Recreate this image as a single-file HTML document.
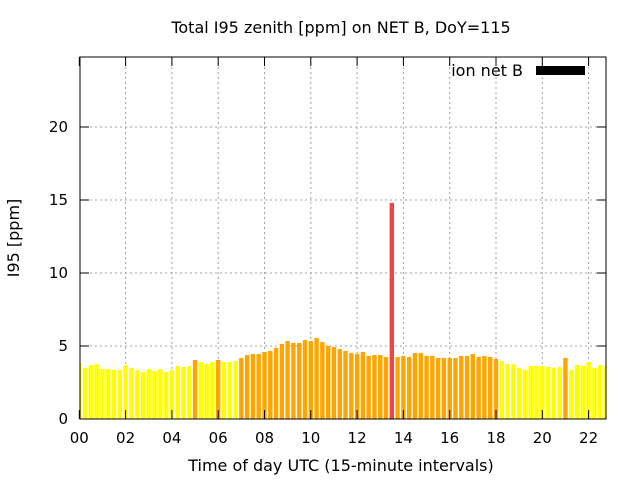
<!DOCTYPE html>
<html><head><meta charset="utf-8"><style>
html,body{margin:0;padding:0;background:#fff}
svg{display:block;font-family:"DejaVu Sans","Liberation Sans",sans-serif}
</style></head><body>
<svg id="chart" width="640" height="480" viewBox="0 0 640 480">
<text x="341" y="33" text-anchor="middle" font-size="16">Total I95 zenith [ppm] on NET B, DoY=115</text>
<text x="341" y="471" text-anchor="middle" font-size="16">Time of day UTC (15-minute intervals)</text>
<text transform="translate(19,238) rotate(-90)" text-anchor="middle" font-size="16">I95 [ppm]</text>
<g id="grid"></g>
<g id="bars" clip-path="url(#clip)"></g>
<defs><clipPath id="clip"><rect x="80" y="57" width="526" height="362"/></clipPath></defs>
<g id="axes"></g>
<g>
<text x="523" y="76" text-anchor="end" font-size="16">ion net B</text>
<rect x="536" y="66" width="49" height="9" fill="#000"/>
</g>
</svg>
<script>
const values = [3.84,3.49,3.70,3.77,3.42,3.42,3.36,3.36,3.70,3.49,3.36,3.22,3.42,3.29,3.42,3.22,3.36,3.63,3.56,3.63,4.04,3.90,3.77,3.90,4.04,3.90,3.90,3.97,4.18,4.38,
4.45,4.45,4.59,4.66,4.86,5.14,5.34,5.21,5.21,5.41,5.34,5.55,5.27,5.00,4.93,4.79,4.66,4.52,4.45,4.59,4.32,4.38,4.38,4.25,14.8,4.25,4.32,4.25,4.52,4.52,
4.32,4.32,4.18,4.18,4.18,4.18,4.32,4.32,4.45,4.25,4.32,4.25,4.11,3.97,3.77,3.77,3.49,3.36,3.63,3.63,3.63,3.56,3.49,3.56,4.18,3.36,3.70,3.63,3.90,3.49,3.70,3.63];
const yTicks = [0,5,10,15,20];
const xTicks = ["00","02","04","06","08","10","12","14","16","18","20","22"];
const hoursPerSlot = 0.25;

const X0=79.3, PXH=23.15, Y0=419, PXU=14.6, L=80, R=606, T=57, B=419;
const xs = h => X0 + h*PXH;
const ys = v => Y0 - v*PXU;
const NS="http://www.w3.org/2000/svg";
function mk(tag, attrs, parent){const e=document.createElementNS(NS,tag);for(const k in attrs)e.setAttribute(k,attrs[k]);parent.appendChild(e);return e;}
const grid=document.getElementById('grid'), barsG=document.getElementById('bars'), axes=document.getElementById('axes');

yTicks.forEach(v=>{
  const y=ys(v);
  if(v>0){const g=mk('line',{x1:L,x2:R,y1:y,y2:y,stroke:'#a0a0a0','stroke-width':1,'stroke-dasharray':'2,3'},grid);
  
  }
  mk('line',{x1:L,x2:L+9,y1:y,y2:y,stroke:'#000'},axes);
  mk('line',{x1:R,x2:R-9,y1:y,y2:y,stroke:'#000'},axes);
  const t=mk('text',{x:L-12,y:y+5,'text-anchor':'end','font-size':15},axes);
  t.textContent=v;
  
  
});
xTicks.forEach((lab,i)=>{
  const x=xs(parseInt(lab,10));
  if(i>0){const g=mk('line',{x1:x,x2:x,y1:T,y2:B,stroke:'#a0a0a0','stroke-width':1,'stroke-dasharray':'2,3'},grid);
  
  }
  mk('line',{x1:x,x2:x,y1:B,y2:B-9,stroke:'#000'},axes);
  mk('line',{x1:x,x2:x,y1:T,y2:T+9,stroke:'#000'},axes);
  const t=mk('text',{x:x,y:B+24,'text-anchor':'middle','font-size':15},axes);
  t.textContent=lab;
  
  
});
values.forEach((v,i)=>{
  const x=xs(i*hoursPerSlot);
  const col = v>=10 ? '#f04545' : (v>=4 ? '#ffa500' : '#ffff00');
  const r=mk('rect',{x:x-2.2,y:ys(v),width:4.4,height:Y0-ys(v),fill:col},barsG);
  
  
});
const frame=mk('rect',{x:L,y:T,width:R-L,height:B-T,fill:'none',stroke:'#000','stroke-width':1},axes);


</script>
</body></html>
